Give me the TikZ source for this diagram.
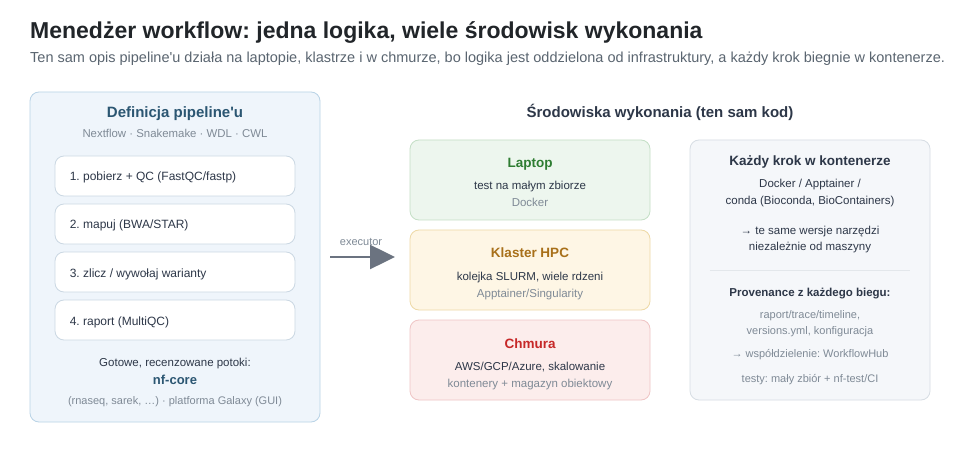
\documentclass[tikz,border=0pt]{standalone}
\usepackage{fontspec}
\setmainfont{Liberation Sans}
\usetikzlibrary{arrows.meta}
\frenchspacing
\definecolor{titlec}{HTML}{212529}
\definecolor{ink}{HTML}{2D3748}
\definecolor{subc}{HTML}{5A6570}
\definecolor{muted}{HTML}{7F8A96}
\definecolor{defnfill}{HTML}{EFF5FB}
\definecolor{defnline}{HTML}{B9D3E6}
\definecolor{defnhead}{HTML}{2B5672}
\definecolor{stepline}{HTML}{CBD8E3}
\definecolor{lapfill}{HTML}{EDF6EE}
\definecolor{lapline}{HTML}{C4DFC6}
\definecolor{laphead}{HTML}{2E7D32}
\definecolor{hpcfill}{HTML}{FEF6E5}
\definecolor{hpcline}{HTML}{EED9A6}
\definecolor{hpchead}{HTML}{A8701A}
\definecolor{cloudfill}{HTML}{FCEDEC}
\definecolor{cloudline}{HTML}{EFC5C5}
\definecolor{cloudhead}{HTML}{C62828}
\definecolor{contfill}{HTML}{F5F7FA}
\definecolor{contline}{HTML}{D7DDE4}
\definecolor{rulec}{HTML}{E3E7EB}
\definecolor{arrowc}{HTML}{6B7380}

\begin{document}
\begin{tikzpicture}[x=1pt,y=-1pt,
  every node/.style={inner sep=0pt, text=ink, font=\fontsize{11.5}{14}\selectfont},
  panel/.style={draw, rounded corners=9pt, line width=0.8pt},
  stepbox/.style={panel, fill=white, draw=stepline, minimum width=240pt, minimum height=40pt},
  envbox/.style={panel, minimum width=240pt, minimum height=80pt},
  boxtitle/.style={anchor=base, font=\bfseries\fontsize{13.5}{16}\selectfont},
  bodytext/.style={anchor=base},
  notetext/.style={anchor=base, text=muted, font=\fontsize{11.5}{14}\selectfont}
]
\useasboundingbox[fill=white] (0,0) rectangle (960,470);

\node[anchor=base west, text=titlec, font=\bfseries\fontsize{23}{28}\selectfont] (title) at (30,39)
  {Menedżer workflow: jedna logika, wiele środowisk wykonania};
\node[anchor=base west, text=subc, font=\fontsize{14.5}{18}\selectfont] (subtitle) at (30,63)
  {Ten sam opis pipeline\textquotesingle u działa na laptopie, klastrze i w chmurze, bo logika jest oddzielona od infrastruktury, a każdy krok biegnie w kontenerze.};

% definicja
\node[panel, fill=defnfill, draw=defnline, minimum width=290pt, minimum height=330pt] (defn) at (175,257) {};
\node[boxtitle, text=defnhead, font=\bfseries\fontsize{15}{18}\selectfont] (defnt) at (175,118) {Definicja pipeline\textquotesingle u};
\node[notetext, font=\fontsize{11.4}{13}\selectfont] (langs) at (175,138) {Nextflow · Snakemake · WDL · CWL};
\foreach \y/\txt [count=\i] in {176/{1. pobierz + QC (FastQC/fastp)}, 224/{2. mapuj (BWA/STAR)},
    272/{3. zlicz / wywołaj warianty}, 320/{4. raport (MultiQC)}} {
  \node[stepbox] (step\i) at (175,\y) {};
  \node[bodytext, anchor=base west, font=\fontsize{12}{14}\selectfont] at ([xshift=15pt, yshift=-5pt]step\i.west) {\txt};
}
\node[bodytext] (ready) at (175,366) {Gotowe, recenzowane potoki:};
\node[boxtitle, text=defnhead, font=\bfseries\fontsize{13}{15}\selectfont] (nfcore) at (175,384) {nf-core};
\node[notetext, font=\fontsize{11}{13}\selectfont] (galaxy) at (175,404) {(rnaseq, sarek, …) · platforma Galaxy (GUI)};

% executor
\coordinate (exin) at (330,257);
\coordinate (exout) at (395,257);
\draw[arrowc, line width=2.5pt, -{Triangle[length=25pt, width=24pt]}] (exin) -- (exout);
\node[notetext, font=\fontsize{11}{13}\selectfont] (exec) at (361,245) {executor};

% srodowiska
\node[boxtitle, font=\bfseries\fontsize{15}{18}\selectfont, text=ink] (envt) at (660,118) {Środowiska wykonania (ten sam kod)};
\node[envbox, fill=lapfill, draw=lapline] (laptop) at (530,180) {};
\node[boxtitle, text=laphead] at (530,168) {Laptop};
\node[bodytext] at (530,190) {test na małym zbiorze};
\node[notetext] at (530,207) {Docker};

\node[envbox, fill=hpcfill, draw=hpcline] (hpc) at (530,270) {};
\node[boxtitle, text=hpchead] at (530,258) {Klaster HPC};
\node[bodytext] at (530,280) {kolejka SLURM, wiele rdzeni};
\node[notetext] at (530,297) {Apptainer/Singularity};

\node[envbox, fill=cloudfill, draw=cloudline] (cloud) at (530,360) {};
\node[boxtitle, text=cloudhead] at (530,348) {Chmura};
\node[bodytext] at (530,370) {AWS/GCP/Azure, skalowanie};
\node[notetext] at (530,387) {kontenery + magazyn obiektowy};

% kontenery
\node[panel, fill=contfill, draw=contline, minimum width=240pt, minimum height=260pt] (cont) at (810,270) {};
\node[boxtitle] at (810,166) {Każdy krok w kontenerze};
\node[bodytext] at (810,188) {Docker / Apptainer /};
\node[bodytext] at (810,205) {conda (Bioconda, BioContainers)};
\node[bodytext] at (810,234) {→ te same wersje narzędzi};
\node[bodytext] at (810,251) {niezależnie od maszyny};
\draw[rulec, line width=0.8pt] ([xshift=20pt]cont.west |- 0,270) -- ([xshift=-20pt]cont.east |- 0,270);
\node[boxtitle, font=\bfseries\fontsize{11.5}{14}\selectfont] at (810,296) {Provenance z każdego biegu:};
\node[notetext, font=\fontsize{11}{13}\selectfont] at (810,318) {raport/trace/timeline,};
\node[notetext, font=\fontsize{11}{13}\selectfont] at (810,334) {versions.yml, konfiguracja};
\node[notetext, font=\fontsize{11}{13}\selectfont] at (810,357) {→ współdzielenie: WorkflowHub};
\node[notetext, font=\fontsize{11}{13}\selectfont] at (810,382) {testy: mały zbiór + nf-test/CI};
\end{tikzpicture}
\end{document}
